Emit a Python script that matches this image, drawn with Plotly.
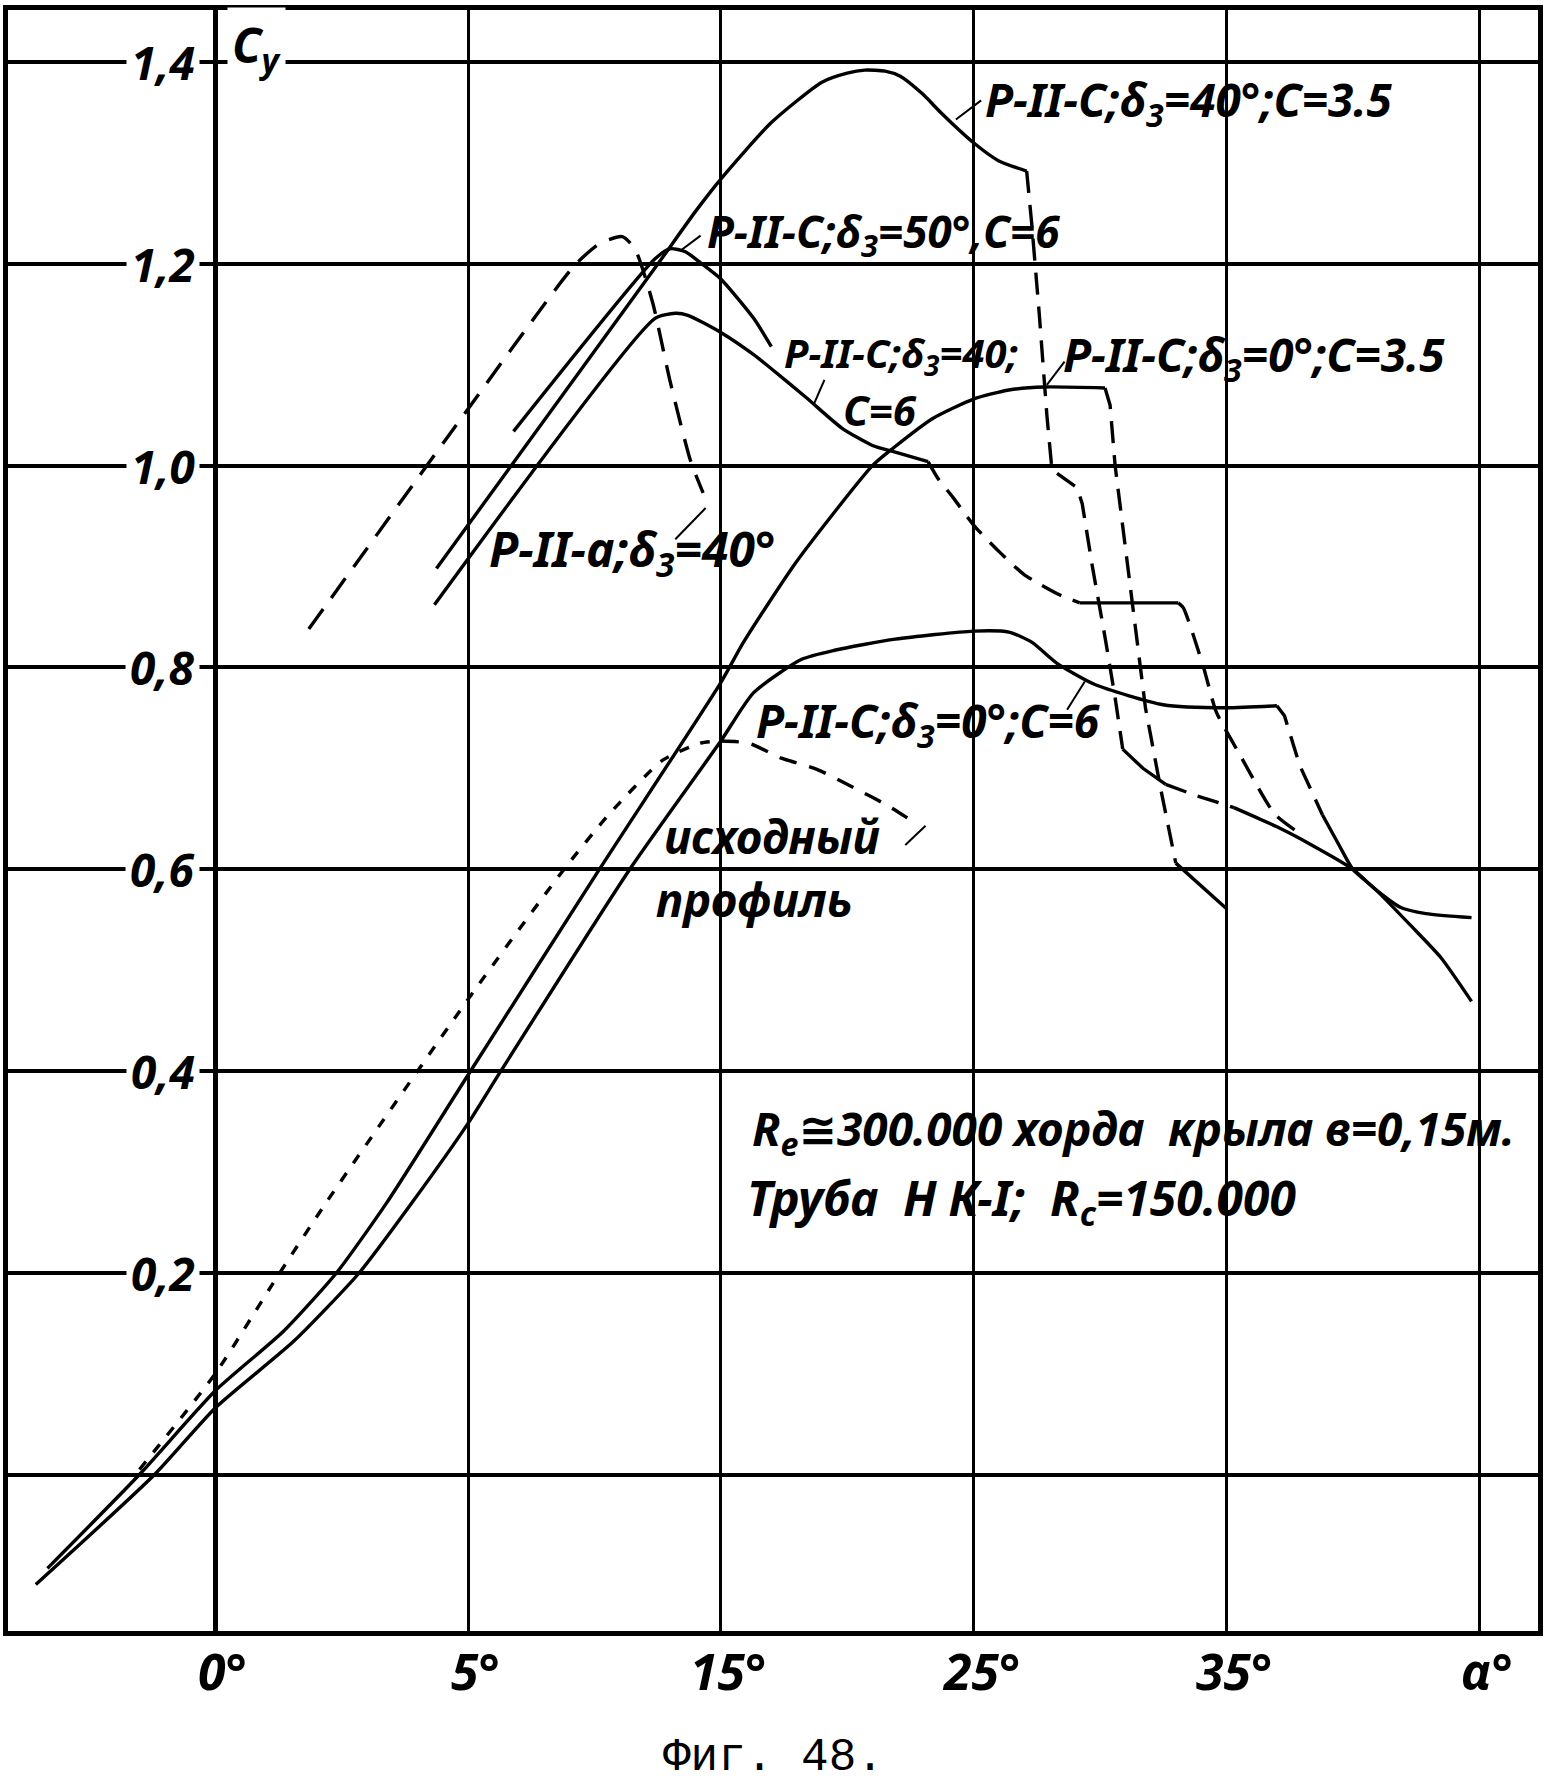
import plotly.graph_objects as go

# axis: one grid division per step, labels as printed in the original figure
alpha_ticks = [0, 1, 2, 3, 4, 5]
alpha_labels = ["0°", "5°", "15°", "25°", "35°", "α°"]
cy_ticks = [0.2, 0.4, 0.6, 0.8, 1.0, 1.2, 1.4]
cy_labels = ["0,2", "0,4", "0,6", "0,8", "1,0", "1,2", "1,4"]

# P-II-C; δ3=40°; C=3.5
a_x = [0.875, 1.74, 1.90, 2.00, 2.20, 2.40, 2.50, 2.57, 2.65, 2.71, 2.80, 2.87, 3.00, 3.10, 3.21]
a_y = [0.898, 1.196, 1.252, 1.284, 1.340, 1.380, 1.389, 1.392, 1.391, 1.386, 1.368, 1.350, 1.320, 1.302, 1.292]
a_drop_x = [3.21, 3.23, 3.26, 3.29, 3.31, 3.41, 3.43, 3.47, 3.52, 3.56, 3.59]
a_drop_y = [1.292, 1.24, 1.15, 1.05, 0.996, 0.978, 0.962, 0.90, 0.83, 0.77, 0.719]
a_mid_x = [3.59, 3.67, 3.76]
a_mid_y = [0.719, 0.700, 0.684]
a_gap_x = [3.76, 3.88, 4.03]
a_gap_y = [0.684, 0.673, 0.661]
a_tail_x = [4.03, 4.20, 4.33, 4.50, 4.59, 4.69, 4.79, 4.97]
a_tail_y = [0.661, 0.642, 0.625, 0.600, 0.580, 0.562, 0.556, 0.552]

# P-II-C; δ3=50°; C=6
b_x = [1.18, 1.74, 1.80, 1.86, 1.92, 2.00, 2.13, 2.20]
b_y = [1.034, 1.205, 1.215, 1.212, 1.201, 1.185, 1.146, 1.118]

# P-II-C; δ3=40°; C=6
c_x = [0.867, 1.74, 1.82, 1.87, 2.00, 2.13, 2.20, 2.34, 2.48, 2.60, 2.68, 2.82]
c_y = [0.862, 1.146, 1.151, 1.149, 1.132, 1.110, 1.096, 1.067, 1.037, 1.020, 1.014, 1.004]
c_drop_x = [2.82, 2.86, 2.92, 3.00, 3.10, 3.20, 3.34, 3.42]
c_drop_y = [1.004, 0.987, 0.968, 0.941, 0.915, 0.892, 0.872, 0.864]
c_flat_x = [3.42, 3.81]
c_flat_y = [0.864, 0.864]
c_drop2_x = [3.81, 3.83, 3.91, 3.96, 4.05, 4.19, 4.27]
c_drop2_y = [0.864, 0.859, 0.800, 0.756, 0.715, 0.655, 0.639]

# P-II-a; δ3=40°
d_x = [0.37, 0.953, 1.42, 1.52, 1.61, 1.66, 1.73, 1.80, 1.88, 1.93]
d_y = [0.838, 1.040, 1.198, 1.220, 1.227, 1.215, 1.162, 1.083, 1.005, 0.973]

# P-II-C; δ3=0°; C=3.5
e_x = [-0.664, -0.30, 0.0, 0.27, 0.48, 0.68, 1.0, 1.52, 2.0, 2.09, 2.30, 2.60, 2.68, 2.84, 3.00, 3.14, 3.28, 3.52]
e_y = [-0.093, 0.0, 0.083, 0.142, 0.200, 0.270, 0.396, 0.600, 0.785, 0.825, 0.905, 1.000, 1.017, 1.047, 1.066, 1.075, 1.078, 1.077]
e_drop_x = [3.52, 3.54, 3.56, 3.60, 3.64, 3.68, 3.74, 3.80]
e_drop_y = [1.077, 1.06, 1.00, 0.92, 0.84, 0.76, 0.68, 0.606]
e_end_x = [3.80, 4.00]
e_end_y = [0.606, 0.561]

# P-II-C; δ3=0°; C=6
f_x = [-0.71, -0.24, 0.0, 0.31, 0.57, 0.78, 1.0, 1.13, 1.64, 2.00, 2.13, 2.32, 2.45, 2.69,
       3.00, 3.14, 3.23, 3.33, 3.48, 3.75, 4.00, 4.20]
f_y = [-0.109, 0.0, 0.066, 0.132, 0.200, 0.270, 0.348, 0.400, 0.600, 0.727, 0.775, 0.808, 0.817, 0.828,
       0.836, 0.835, 0.825, 0.804, 0.783, 0.763, 0.760, 0.762]
f_drop_x = [4.20, 4.23, 4.29, 4.35, 4.38]
f_drop_y = [0.762, 0.752, 0.703, 0.671, 0.654]
f_end_x = [4.38, 4.45, 4.50, 4.59, 4.73, 4.85, 4.97]
f_end_y = [0.654, 0.622, 0.600, 0.580, 0.544, 0.512, 0.469]

# исходный профиль
g_x = [-0.30, 0.0, 0.24, 0.44, 1.02, 1.38, 1.56, 1.77, 1.92, 2.00]
g_y = [0.005, 0.100, 0.194, 0.270, 0.478, 0.600, 0.655, 0.708, 0.725, 0.727]
g2_x = [2.00, 2.11, 2.24, 2.38, 2.54, 2.66, 2.78]
g2_y = [0.727, 0.725, 0.710, 0.699, 0.679, 0.663, 0.644]

# short leader strokes from curve to its caption
leaders = [
    ([2.93, 3.03], [1.343, 1.362]),
    ([1.84, 1.92], [1.213, 1.228]),
    ([2.37, 2.41], [1.062, 1.085]),
    ([1.94, 1.82], [0.958, 0.927]),
    ([3.29, 3.36], [1.080, 1.103]),
    ([3.37, 3.44], [0.758, 0.786]),
    ([2.73, 2.81], [0.624, 0.643]),
]

LONG = "22px,12px"
SHORT = "10px,12px"
MID = "18px,13px"

# (x, y, dash, smooth)
segments = [
    (a_x, a_y, "solid", True), (a_drop_x, a_drop_y, LONG, False), (a_mid_x, a_mid_y, "solid", False),
    (a_gap_x, a_gap_y, LONG, False), (a_tail_x, a_tail_y, "solid", True),
    (b_x, b_y, "solid", True),
    (c_x, c_y, "solid", True), (c_drop_x, c_drop_y, LONG, True), (c_flat_x, c_flat_y, "solid", False),
    (c_drop2_x, c_drop2_y, LONG, True),
    (d_x, d_y, "24px,14px", True),
    (e_x, e_y, "solid", True), (e_drop_x, e_drop_y, LONG, False), (e_end_x, e_end_y, "solid", False),
    (f_x, f_y, "solid", True), (f_drop_x, f_drop_y, LONG, False), (f_end_x, f_end_y, "solid", True),
    (g_x, g_y, SHORT, True), (g2_x, g2_y, MID, True),
]

fig = go.Figure()
for xs, ys, dash, smooth in segments:
    line = dict(color="black", width=3.4, dash=dash)
    if smooth:
        line.update(shape="spline", smoothing=0.6)
    fig.add_trace(go.Scatter(x=xs, y=ys, mode="lines", line=line,
                             showlegend=False, hoverinfo="skip"))
for xs, ys in leaders:
    fig.add_trace(go.Scatter(x=xs, y=ys, mode="lines",
                             line=dict(color="black", width=2),
                             showlegend=False, hoverinfo="skip"))

FONT = "Noto Sans, DejaVu Sans, sans-serif"


def label(text, x, y, size=46, xanchor="left", bg=None, xref="x", yref="y"):
    fig.add_annotation(
        x=x, y=y, xref=xref, yref=yref, text=text, showarrow=False,
        xanchor=xanchor, yanchor="middle",
        font=dict(family=FONT, size=size, color="black", weight="bold", style="italic"),
        bgcolor=bg, borderpad=4 if bg else 0,
    )


# curve captions
label("P-II-C;δ<sub>3</sub>=40°;C=3.5", 3.04, 1.36)
label("P-II-C;δ<sub>3</sub>=50°,C=6", 1.94, 1.23, size=44)
label("P-II-C;δ<sub>3</sub>=40;", 2.245, 1.11, size=40)
label("C=6", 2.48, 1.056, size=42)
label("P-II-C;δ<sub>3</sub>=0°;C=3.5", 3.35, 1.108)
label("P-II-a;δ<sub>3</sub>=40°", 1.08, 0.915, size=48)
label("P-II-C;δ<sub>3</sub>=0°;C=6", 2.136, 0.745)
label("исходный", 1.77, 0.633, size=46)
label("профиль", 1.74, 0.570, size=46)
label("R<sub>e</sub>≅300.000 хорда  крыла в=0,15м.", 2.12, 0.340)
label("Труба  Н К-I;  R<sub>c</sub>=150.000", 2.10, 0.272, size=48)

# axis labels
for v, t in zip(cy_ticks, cy_labels):
    label(t, -0.06, v, size=46, xanchor="right", bg="white")
label("C<sub>y</sub>", 0.045, 1.414, size=48, bg="white")
for v, t in zip(alpha_ticks, alpha_labels):
    label(t, v + 0.03, -0.0246, size=50, xanchor="center", yref="paper")

fig.add_annotation(x=0.5, y=-0.0785, xref="paper", yref="paper", text="Фиг. 48.",
                   showarrow=False, xanchor="center", yanchor="middle",
                   font=dict(family="Liberation Mono, DejaVu Sans Mono, monospace",
                             size=46, color="black"))

fig.update_layout(
    width=1548, height=1786,
    margin=dict(l=8, r=6, t=5, b=155, pad=0),
    paper_bgcolor="white", plot_bgcolor="white",
    xaxis=dict(range=[-0.82, 5.233], tickvals=alpha_ticks, showticklabels=False, ticks="",
               showgrid=True, gridcolor="black", gridwidth=2.6,
               zeroline=True, zerolinecolor="black", zerolinewidth=4.5,
               showline=True, linecolor="black", linewidth=4.5, mirror=True),
    yaxis=dict(range=[-0.1551, 1.4516], tickvals=[0.0] + cy_ticks, showticklabels=False, ticks="",
               showgrid=True, gridcolor="black", gridwidth=3.5,
               zeroline=True, zerolinecolor="black", zerolinewidth=3.5,
               showline=True, linecolor="black", linewidth=4.5, mirror=True),
)

# drop the default page margin so the figure sits at the window's corner
fig.write_html("out.html", config={"displayModeBar": False},
               post_script="document.body.style.margin='0';")
